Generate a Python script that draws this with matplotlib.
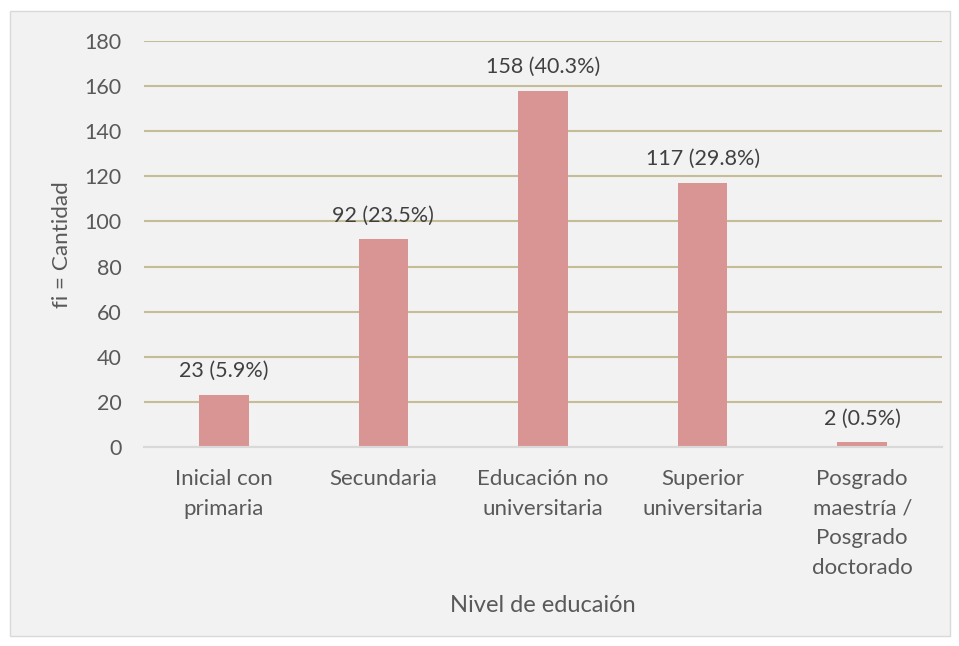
import matplotlib.pyplot as plt
from matplotlib.patches import Rectangle

plt.rcParams['font.family'] = ['Lato', 'DejaVu Sans']

# Data
categories = [
    "Inicial con\nprimaria",
    "Secundaria",
    "Educación no\nuniversitaria",
    "Superior\nuniversitaria",
    "Posgrado\nmaestría /\nPosgrado\ndoctorado",
]
counts = [23, 92, 158, 117, 2]
percents = [5.9, 23.5, 40.3, 29.8, 0.5]
y_ticks = [0, 20, 40, 60, 80, 100, 120, 140, 160, 180]

TEXT = "#595959"
BAR = "#D99594"
GRID = "#C4BD97"
BG = "#F2F2F2"

W, H = 959, 646
fig = plt.figure(figsize=(W / 100, H / 100), dpi=100)
fig.patch.set_facecolor("white")

# chart area panel
fig.patches.append(Rectangle((10 / W, 1 - 636 / H), 940 / W, 625 / H,
                             transform=fig.transFigure, facecolor=BG,
                             edgecolor="#D9D9D9", linewidth=1.0, zorder=-5))

ax = fig.add_axes([144 / W, 1 - 447 / H, 798 / W, 406 / H])
ax.patch.set_alpha(0)

x = list(range(len(categories)))
bars = ax.bar(x, counts, width=0.31, color=BAR, zorder=3)

for xi, c, p in zip(x, counts, percents):
    ax.annotate(f"{c} ({p}%)", (xi, c), xytext=(0, 10), textcoords="offset points",
                ha="center", va="bottom", fontsize=15.5, color="#404040")

ax.set_xlim(-0.5, len(categories) - 0.5)
ax.set_ylim(0, 180)
ax.set_yticks(y_ticks)
ax.set_xticks(x)
ax.set_xticklabels(categories, fontsize=16, color=TEXT, linespacing=1.59)
ax.tick_params(axis="y", labelsize=15.5, labelcolor=TEXT, length=0, pad=16)
ax.tick_params(axis="x", length=0, pad=16)

ax.yaxis.grid(True, color=GRID, linewidth=1.5, zorder=0)
for s in ["top", "right", "left"]:
    ax.spines[s].set_visible(False)
ax.spines["bottom"].set_color("#D9D9D9")
ax.spines["bottom"].set_linewidth(1.5)
ax.spines["bottom"].set_zorder(4)

fig.text(62 / W, 1 - 245 / H, "fi = Cantidad", rotation=90, ha="center", va="center",
         fontsize=16.2, color=TEXT)
fig.text(543 / W, 1 - 605 / H, "Nivel de educaión", ha="center", va="center",
         fontsize=17, color=TEXT)

fig.savefig("out.png", dpi=100)
